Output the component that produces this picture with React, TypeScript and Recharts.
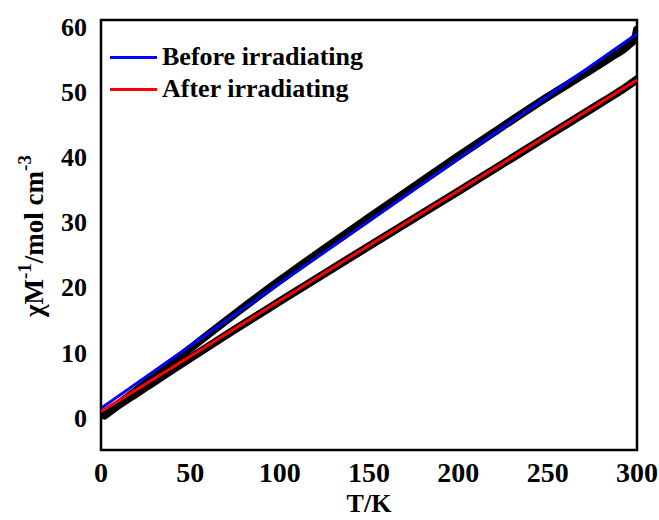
import { LineChart, Line, XAxis, YAxis, ReferenceArea, Legend } from "recharts";

// measured chi^-1 (black markers), before / after irradiation
const tempBefore = [2, 5, 10, 20, 30, 50, 75, 100, 125, 150, 175, 200, 225, 250, 270, 285, 295, 299, 300];
const chiBefore = [0.4, 1.0, 2.1, 4.2, 6.3, 10.6, 15.9, 21.0, 25.9, 30.7, 35.4, 40.1, 44.7, 49.2, 52.6, 55.2, 57.1, 58.3, 59.5];
const tempAfter = [2, 5, 10, 20, 30, 50, 75, 100, 150, 200, 250, 280, 295, 300];
const chiAfter = [0.3, 0.9, 1.9, 3.7, 5.5, 9.1, 13.5, 17.8, 26.3, 34.7, 43.2, 48.3, 50.9, 51.9];

// Curie-Weiss fits
const fitTemps = [0, 50, 100, 150, 200, 250, 300];
const fitBefore = [1.4, 11.0, 20.6, 30.1, 39.7, 49.3, 58.9];
const fitAfter = [0.9, 9.4, 17.9, 26.4, 34.8, 43.3, 51.8];

const seriesNames = ["Before irradiating", "After irradiating"];
const xTicks = [0, 50, 100, 150, 200, 250, 300];
const yTicks = [0, 10, 20, 30, 40, 50, 60];

const FONT = '"Liberation Serif", "Times New Roman", serif';

const zip = (xs: number[], ys: number[]) => xs.map((t, i) => ({ t, v: ys[i] }));
const measuredBefore = zip(tempBefore, chiBefore);
const measuredAfter = zip(tempAfter, chiAfter);
const fitBeforeData = zip(fitTemps, fitBefore);
const fitAfterData = zip(fitTemps, fitAfter);

function LegendBox({ payload }: any) {
  const items = (payload || [])
    .filter((p: any) => seriesNames.includes(p.value))
    .sort((a: any, b: any) => seriesNames.indexOf(a.value) - seriesNames.indexOf(b.value));
  return (
    <div style={{ fontFamily: FONT, fontWeight: "bold", fontSize: 26, color: "#000" }}>
      {items.map((p: any) => (
        <div key={p.value} style={{ display: "flex", alignItems: "center", height: 32 }}>
          <span style={{ width: 47, height: 3, background: p.color, marginRight: 5 }} />
          <span>{p.value}</span>
        </div>
      ))}
    </div>
  );
}

function YTitle({ viewBox }: any) {
  const x = viewBox.x + 43;
  const y = viewBox.y + viewBox.height / 2 + 1;
  return (
    <text
      x={x}
      y={y}
      transform={`rotate(-90 ${x} ${y})`}
      textAnchor="middle"
      fontFamily={FONT}
      fontWeight="bold"
      fontSize={27}
      fill="#000"
    >
      χM<tspan dy={-12} fontSize={19}>-1</tspan>
      <tspan dy={12}>/mol cm</tspan>
      <tspan dy={-12} fontSize={19}>-3</tspan>
    </text>
  );
}

function XTitle({ viewBox }: any) {
  return (
    <text
      x={viewBox.x + viewBox.width / 2}
      y={viewBox.y + 62}
      textAnchor="middle"
      fontFamily={FONT}
      fontWeight="bold"
      fontSize={26}
      fill="#000"
    >
      T/K
    </text>
  );
}

export default function App() {
  return (
    <div style={{ position: "absolute", left: 0, top: 0, background: "#fff" }}>
      <LineChart width={659} height={520} margin={{ top: 20, right: 22, bottom: 0, left: 0 }}>
        <XAxis
          type="number"
          dataKey="t"
          domain={[0, 300]}
          ticks={xTicks}
          height={70}
          axisLine={false}
          tickLine={false}
          tickSize={0}
          tickMargin={12}
          tick={{ fontFamily: FONT, fontWeight: "bold", fontSize: 28, fill: "#000" }}
          label={<XTitle />}
          allowDataOverflow
        />
        <YAxis
          type="number"
          dataKey="v"
          domain={[-5, 61]}
          ticks={yTicks}
          width={101}
          axisLine={false}
          tickLine={false}
          tickSize={0}
          tickMargin={14}
          tick={{ fontFamily: FONT, fontWeight: "bold", fontSize: 26, fill: "#000" }}
          label={<YTitle />}
          allowDataOverflow
        />
        <ReferenceArea x1={0} x2={300} y1={-5} y2={61} fill="none" stroke="#000" strokeWidth={2.5} ifOverflow="visible" />
        <Line data={measuredBefore} type="monotone" dataKey="v" name="measured before" stroke="#000" strokeWidth={8} strokeLinecap="round" strokeLinejoin="round" dot={false} legendType="none" isAnimationActive={false} />
        <Line data={measuredAfter} type="monotone" dataKey="v" name="measured after" stroke="#000" strokeWidth={8} strokeLinecap="round" strokeLinejoin="round" dot={false} legendType="none" isAnimationActive={false} />
        <Line data={fitBeforeData} dataKey="v" name="Before irradiating" stroke="#0000ff" strokeWidth={3} dot={false} isAnimationActive={false} />
        <Line data={fitAfterData} dataKey="v" name="After irradiating" stroke="#ff0000" strokeWidth={3} dot={false} isAnimationActive={false} />
        <Legend
          layout="vertical"
          align="center"
          verticalAlign="middle"
          content={<LegendBox />}
          wrapperStyle={{ left: 110, top: 41, width: "auto", height: "auto" }}
        />
      </LineChart>
    </div>
  );
}
